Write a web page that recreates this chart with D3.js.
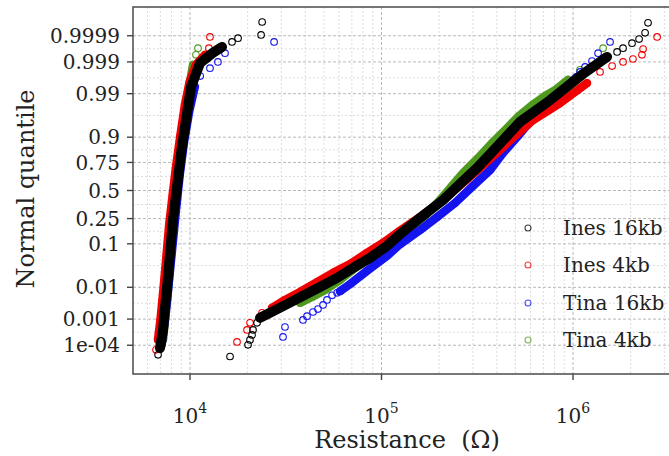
<!DOCTYPE html>
<html><head><meta charset="utf-8">
<script src="https://cdn.jsdelivr.net/npm/d3@7"></script>
<style>body{margin:0;background:#fff} svg{display:block}</style>
</head><body><svg id="chart" width="669" height="456"></svg>
<script>
// ---------- data: [resistance (ohm), theoretical normal quantile] ----------
const seriesNames = ["Ines 16kb", "Ines 4kb", "Tina 16kb", "Tina 4kb"];
const seriesColors = ["#000000", "#f00000", "#1414f0", "#4f9a1e"];

const ines16Lrs = [[6970,-3.79],[7230,-3.35],[7360,-2.94],[7590,-2.32],[7870,-1.50],[8150,-0.71],[8550,0.08],[8980,0.90],[9530,1.69],[10120,2.49],[11270,3.06],[13180,3.31],[14690,3.45]];
const ines16LrsTail = [[6810,-3.95],[16570,3.57],[17820,3.66],[23500,3.74],[23800,4.05]];
const ines4Lrs = [[6800,-3.59],[7010,-3.11],[7175,-2.63],[7340,-2.15],[7540,-1.55],[7780,-0.83],[8115,-0.11],[8475,0.61],[8910,1.33],[9400,2.05],[9950,2.61],[10740,3.02],[11970,3.26]];
const ines4LrsTail = [[6645,-3.83],[12550,3.42],[12710,3.69]];
const tina16Lrs = [[7100,-3.71],[7400,-3.10],[7600,-2.60],[7830,-2.00],[8150,-1.20],[8480,-0.40],[8850,0.40],[9330,1.20],[9900,1.90],[10600,2.50]];
const tina16LrsTail = [[11300,2.75],[12710,2.94],[13990,3.09],[15230,3.30],[27480,3.57]];
const tina4Lrs = [[7230,-3.59],[7400,-3.11],[7590,-2.63],[7760,-2.15],[7960,-1.55],[8150,-0.83],[8450,-0.11],[8770,0.61],[9080,1.33],[9530,2.05],[10000,2.61],[10370,3.02]];
const tina4LrsTail = [[10740,3.26],[11010,3.42]];

const ines16Hrs = [[23210,-3.06],[26180,-2.94],[32110,-2.73],[38900,-2.53],[47730,-2.32],[58580,-2.10],[71020,-1.86],[87100,-1.62],[106900,-1.33],[125000,-1.05],[158900,-0.66],[209400,-0.23],[256900,0.16],[315400,0.54],[382300,0.95],[452000,1.31],[528500,1.65],[758300,2.17],[1127000,2.80],[1506000,3.21]];
const ines16HrsTail = [[16180,-3.99],[20090,-3.71],[20560,-3.59],[21080,-3.47],[21330,-3.35],[22390,-3.18],[1699000,3.33],[1825000,3.42],[2033000,3.54],[2213000,3.64],[2379000,3.79],[2465000,4.03]];
const ines4Hrs = [[26790,-2.82],[31330,-2.63],[37530,-2.44],[46030,-2.20],[55830,-1.98],[68500,-1.77],[84000,-1.50],[101800,-1.26],[121900,-1.00],[158900,-0.64],[209400,-0.23],[263000,0.16],[326600,0.54],[405400,0.93],[497600,1.31],[618000,1.69],[855000,2.10],[1183000,2.58]];
const ines4HrsTail = [[17600,-3.64],[19850,-3.35],[20570,-3.18],[23770,-2.94],[1384000,2.85],[1600000,2.99],[1825000,3.09],[2056000,3.16],[2291000,3.26],[2322000,3.40],[2749000,3.69]];
const tina16Hrs = [[60700,-2.42],[68500,-2.25],[84000,-1.93],[106900,-1.57],[125000,-1.29],[158900,-0.95],[195000,-0.64],[242000,-0.30],[300600,0.11],[368800,0.49],[430700,0.90],[516000,1.31],[618000,1.74],[805500,2.22],[1049000,2.73]];
const tina16HrsTail = [[30590,-3.52],[31330,-3.28],[38900,-3.11],[40830,-3.02],[43880,-2.92],[46580,-2.85],[49520,-2.75],[51920,-2.63],[55190,-2.52],[58630,-2.46],[1088000,2.85],[1156000,2.97],[1257000,3.11],[1352000,3.30],[1561000,3.57]];
const tina4Hrs = [[37530,-2.70],[43350,-2.56],[50700,-2.39],[60700,-2.15],[72780,-1.86],[89200,-1.58],[110700,-1.29],[132700,-1.00],[168700,-0.61],[201900,-0.23],[233300,0.11],[266600,0.42],[319300,0.78],[377600,1.14],[441700,1.45],[516300,1.77],[611000,2.05],[714400,2.27],[805500,2.41],[942000,2.66]];
const tina4HrsTail = [[1088000,2.90],[1436000,3.42]];

const yTickProbs = [1e-4, 0.001, 0.01, 0.1, 0.25, 0.5, 0.75, 0.9, 0.99, 0.999, 0.9999];
const yTickLabels = ["1e-04","0.001","0.01","0.1","0.25","0.5","0.75","0.9","0.99","0.999","0.9999"];
const xTickValues = [1e4, 1e5, 1e6];
const xTickExponents = ["4","5","6"];

const seriesBands = [[ines16Lrs, ines16Hrs],[ines4Lrs, ines4Hrs],[tina16Lrs, tina16Hrs],[tina4Lrs, tina4Hrs]];
const seriesTails = [[ines16LrsTail, ines16HrsTail],[ines4LrsTail, ines4HrsTail],[tina16LrsTail, tina16HrsTail],[tina4LrsTail, tina4HrsTail]];

// inverse standard normal CDF (Acklam)
function qnorm(p){
  const a=[-3.969683028665376e+01,2.209460984245205e+02,-2.759285104469687e+02,1.383577518672690e+02,-3.066479806614716e+01,2.506628277459239e+00];
  const b=[-5.447609879822406e+01,1.615858368580409e+02,-1.556989798598866e+02,6.680131188771972e+01,-1.328068155288572e+01];
  const c=[-7.784894002430293e-03,-3.223964580411365e-01,-2.400758277161838e+00,-2.549732539343734e+00,4.374664141464968e+00,2.938163982698783e+00];
  const d=[7.784695709041462e-03,3.224671290700398e-01,2.445134137142996e+00,3.754408661907416e+00];
  const pl=0.02425;
  let q,r;
  if(p<pl){q=Math.sqrt(-2*Math.log(p));return (((((c[0]*q+c[1])*q+c[2])*q+c[3])*q+c[4])*q+c[5])/((((d[0]*q+d[1])*q+d[2])*q+d[3])*q+1);}
  if(p>1-pl){q=Math.sqrt(-2*Math.log(1-p));return -(((((c[0]*q+c[1])*q+c[2])*q+c[3])*q+c[4])*q+c[5])/((((d[0]*q+d[1])*q+d[2])*q+d[3])*q+1);}
  q=p-0.5;r=q*q;
  return (((((a[0]*r+a[1])*r+a[2])*r+a[3])*r+a[4])*r+a[5])*q/(((((b[0]*r+b[1])*r+b[2])*r+b[3])*r+b[4])*r+1);
}

// ---------- layout ----------
const svg = d3.select("#chart");
const L = 133, R = 680, T = 7, B = 374;
const x = d3.scaleLog().domain([5038, 3.62e6]).range([L, R]);
const y = d3.scaleLinear().domain([-4.41, 4.41]).range([B, T]);
const font = "'DejaVu Serif', serif";

svg.append("defs").append("clipPath").attr("id","clip")
  .append("rect").attr("x",L).attr("y",T).attr("width",R-L).attr("height",B-T);

const grid = svg.append("g").attr("clip-path","url(#clip)");
const xMinor = [];
for (let e = 3; e <= 6; e++) for (let k = 2; k <= 9; k++) xMinor.push(k * Math.pow(10, e));
grid.selectAll(".xmin").data(xMinor.filter(v => x(v) > L && x(v) < R)).enter().append("line")
  .attr("x1", d => x(d)).attr("x2", d => x(d)).attr("y1", T).attr("y2", B)
  .attr("stroke", "#d4d4d4").attr("stroke-width", 0.8).attr("stroke-dasharray", "2,2");
grid.selectAll(".xmaj").data(xTickValues).enter().append("line")
  .attr("x1", d => x(d)).attr("x2", d => x(d)).attr("y1", T).attr("y2", B)
  .attr("stroke", "#b8b8b8").attr("stroke-width", 1).attr("stroke-dasharray", "3,2");
const yMajorZ = yTickProbs.map(qnorm);
const yMinorZ = d3.pairs(yMajorZ).map(([a, b]) => (a + b) / 2);
grid.selectAll(".ymin").data(yMinorZ).enter().append("line")
  .attr("x1", L).attr("x2", R).attr("y1", d => y(d)).attr("y2", d => y(d))
  .attr("stroke", "#d4d4d4").attr("stroke-width", 0.8).attr("stroke-dasharray", "2,2");
grid.selectAll(".ymaj").data(yMajorZ).enter().append("line")
  .attr("x1", L).attr("x2", R).attr("y1", d => y(d)).attr("y2", d => y(d))
  .attr("stroke", "#b8b8b8").attr("stroke-width", 1).attr("stroke-dasharray", "3,2");

// ---------- data marks ----------
const plot = svg.append("g").attr("clip-path","url(#clip)");
const line = d3.line().x(d => x(d[0])).y(d => y(d[1]));
const drawOrder = [3, 2, 1, 0];
const bandWidth = [10, 8.5, 8.5, 8.5];
drawOrder.forEach(i => {
  const g = plot.append("g");
  const col = seriesColors[i];
  seriesBands[i].forEach(band => {
    g.append("path").attr("d", line(band)).attr("fill", "none").attr("stroke", col)
      .attr("stroke-width", bandWidth[i]).attr("stroke-linejoin", "round").attr("stroke-linecap", "round");
  });
  const pts = seriesBands[i].flat().concat(seriesTails[i].flat());
  g.selectAll("circle").data(pts).enter().append("circle")
    .attr("cx", d => x(d[0])).attr("cy", d => y(d[1])).attr("r", 3.3)
    .attr("fill", "none").attr("stroke", col).attr("stroke-width", 1.1);
});

// ---------- panel border ----------
svg.append("rect").attr("x", L).attr("y", T).attr("width", R - L).attr("height", B - T)
  .attr("fill", "none").attr("stroke", "#555").attr("stroke-width", 1.6);

// ---------- axes ----------
const yAx = svg.append("g");
yMajorZ.forEach((z, i) => {
  yAx.append("line").attr("x1", L - 6).attr("x2", L).attr("y1", y(z)).attr("y2", y(z))
    .attr("stroke", "#444").attr("stroke-width", 1.4);
  yAx.append("text").attr("x", L - 13).attr("y", y(z)).attr("dy", "0.36em")
    .attr("text-anchor", "end").attr("font-family", font).attr("font-size", 20)
    .attr("fill", "#222").text(yTickLabels[i]);
});
const xAx = svg.append("g");
xTickValues.forEach((v, i) => {
  xAx.append("line").attr("x1", x(v)).attr("x2", x(v)).attr("y1", B).attr("y2", B + 6)
    .attr("stroke", "#444").attr("stroke-width", 1.4);
  const t = xAx.append("text").attr("x", x(v)).attr("y", 423).attr("text-anchor", "middle")
    .attr("font-family", font).attr("font-size", 20).attr("fill", "#222");
  t.append("tspan").text("10");
  t.append("tspan").attr("dy", -10).attr("font-size", 14).text(xTickExponents[i]);
});

svg.append("text").attr("x", 407).attr("y", 448).attr("text-anchor", "middle")
  .attr("font-family", font).attr("font-size", 24).attr("fill", "#222")
  .attr("xml:space", "preserve").text("Resistance  (\u03A9)");
svg.append("text").attr("transform", "translate(34,189) rotate(-90)").attr("text-anchor", "middle")
  .attr("font-family", font).attr("font-size", 24).attr("fill", "#222").text("Normal quantile");

// ---------- legend ----------
const leg = svg.append("g");
const legY = [228, 265, 303, 340];
seriesNames.forEach((n, i) => {
  leg.append("circle").attr("cx", 528).attr("cy", legY[i]).attr("r", 3)
    .attr("fill", "none").attr("stroke", seriesColors[i]).attr("stroke-width", 1.1).attr("opacity", 0.75);
  leg.append("text").attr("x", 563).attr("y", legY[i]).attr("dy", "0.36em")
    .attr("font-family", font).attr("font-size", 20).attr("fill", "#222").text(n);
});
</script></body></html>
